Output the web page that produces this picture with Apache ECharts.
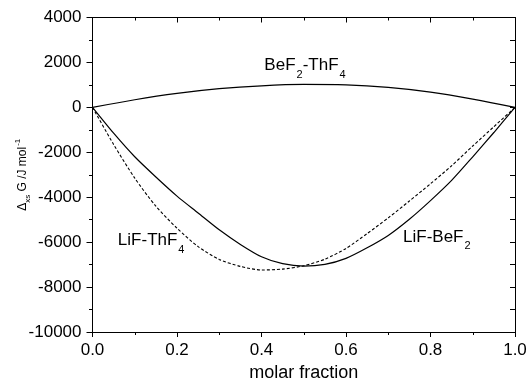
<!DOCTYPE html>
<html>
<head>
<meta charset="utf-8">
<script src="https://cdn.jsdelivr.net/npm/echarts@6/dist/echarts.min.js"></script>
<style>
html,body{margin:0;padding:0;background:#fff;}
#c{width:529px;height:384px;}
</style>
</head>
<body>
<div id="c"></div>
<script>
// ---- data ----
const xFine = [0, 0.05, 0.1, 0.15, 0.2, 0.25, 0.3, 0.35, 0.4, 0.45, 0.5, 0.55, 0.6, 0.65, 0.7, 0.75, 0.8, 0.85, 0.9, 0.95, 1.0];
const lifBef2 = [0, -1150, -2200, -3100, -3950, -4700, -5450, -6100, -6650, -6960, -7070, -6990, -6720, -6250, -5700, -4980, -4150, -3250, -2200, -1120, 0];
const lifThf4 = [0, -1650, -3150, -4400, -5380, -6200, -6770, -7080, -7240, -7200, -7050, -6760, -6280, -5620, -4920, -4170, -3400, -2600, -1720, -860, 0];
const xCoarse = [0, 0.1, 0.2, 0.3, 0.4, 0.5, 0.6, 0.7, 0.8, 0.9, 1.0];
const bef2Thf4 = [0, 340, 620, 830, 960, 1020, 1000, 890, 680, 370, 0];
const xTicks = [0, 0.2, 0.4, 0.6, 0.8, 1.0];
const yTicks = [-10000, -8000, -6000, -4000, -2000, 0, 2000, 4000];
// label anchors in data coordinates: [x, y, text, align]
const curveLabels = [
  [0.503, 1830, '{m|BeF}{s|2}{m|-ThF}{s|4}', 'center'],
  [0.06, -5950, '{m|LiF-ThF}{s|4}', 'left'],
  [0.735, -5790, '{m|LiF-BeF}{s|2}', 'left']
];

const FONT = "'Liberation Sans', Arial, sans-serif";
const chart = echarts.init(document.getElementById('c'), null, {renderer: 'canvas'});

function pairs(xs, ys) { return xs.map((x, i) => [x, ys[i]]); }

const axisCommon = {
  axisLine: {show: true, onZero: false, lineStyle: {color: '#000', width: 1}},
  splitLine: {show: false}
};

const option = {
  animation: false,
  backgroundColor: '#fff',
  grid: {left: 92.5, right: 14, top: 17.5, bottom: 52, containLabel: false, outerBoundsMode: 'none'},
  xAxis: [
    Object.assign({
      type: 'value', min: 0, max: 1, interval: 0.2, position: 'bottom',
      name: 'molar fraction', nameLocation: 'middle', nameGap: 31,
      nameTextStyle: {fontFamily: FONT, fontSize: 18, color: '#000'},
      axisTick: {show: true, inside: false, length: 5, lineStyle: {color: '#000'}},
      minorTick: {show: true, splitNumber: 2, length: 3, lineStyle: {color: '#000'}},
      axisLabel: {margin: 10, fontFamily: FONT, fontSize: 17, color: '#000',
        formatter: v => v.toFixed(1)}
    }, axisCommon),
    Object.assign({
      type: 'value', min: 0, max: 1, interval: 0.2, position: 'top',
      axisTick: {show: true, inside: true, length: 5, lineStyle: {color: '#000'}},
      minorTick: {show: true, splitNumber: 2, length: 3, lineStyle: {color: '#000'}},
      axisLabel: {show: false}
    }, axisCommon)
  ],
  yAxis: [
    Object.assign({
      type: 'value', min: -10000, max: 4000, interval: 2000, position: 'left',
      name: '{m|Δ}{s|xs}{m| G /J mol}{p|-1}', nameLocation: 'middle', nameGap: 66,
      nameMoveOverlap: false,
      nameTextStyle: {fontFamily: FONT, fontSize: 12, color: '#000',
        rich: {
          m: {fontFamily: FONT, fontSize: 12, color: '#000', lineHeight: 13, padding: [3, 0, 2, 0], verticalAlign: 'top'},
          s: {fontFamily: FONT, fontSize: 8, color: '#000', lineHeight: 8, padding: [10, 0, 0, 0], verticalAlign: 'top'},
          p: {fontFamily: FONT, fontSize: 8, color: '#000', lineHeight: 8, padding: [0, 0, 0, 1], verticalAlign: 'top'}
        }},
      axisTick: {show: true, inside: false, length: 6, lineStyle: {color: '#000'}},
      minorTick: {show: true, splitNumber: 2, length: 3.5, lineStyle: {color: '#000'}},
      axisLabel: {margin: 11, fontFamily: FONT, fontSize: 17, color: '#000',
        formatter: v => String(v)}
    }, axisCommon),
    Object.assign({
      type: 'value', min: -10000, max: 4000, interval: 2000, position: 'right',
      axisTick: {show: true, inside: true, length: 5, lineStyle: {color: '#000'}},
      minorTick: {show: true, splitNumber: 2, length: 5, lineStyle: {color: '#000'}},
      axisLabel: {show: false}
    }, axisCommon)
  ],
  series: [
    {type: 'line', name: 'BeF2-ThF4', data: pairs(xCoarse, bef2Thf4), smooth: 0.35,
      showSymbol: false, symbol: 'none', lineStyle: {color: '#000', width: 1.2}},
    {type: 'line', name: 'LiF-BeF2', data: pairs(xFine, lifBef2), smooth: 0.25,
      showSymbol: false, symbol: 'none', lineStyle: {color: '#000', width: 1.2}},
    {type: 'line', name: 'LiF-ThF4', data: pairs(xFine, lifThf4), smooth: 0.25,
      showSymbol: false, symbol: 'none', lineStyle: {color: '#000', width: 1.1, type: [3, 2]}}
  ]
};
chart.setOption(option);

const graphics = curveLabels.map(l => {
  const p = chart.convertToPixel({xAxisIndex: 0, yAxisIndex: 0}, [l[0], l[1]]);
  return {
    type: 'text', x: p[0], y: p[1],
    style: {
      text: l[2], align: l[3], verticalAlign: 'middle', fill: '#000',
      font: '17px ' + FONT,
      rich: {
        m: {fontFamily: FONT, fontSize: 17, fill: '#000', lineHeight: 18, verticalAlign: 'top'},
        s: {fontFamily: FONT, fontSize: 11, fill: '#000', lineHeight: 11, padding: [12, 0, 0, 1], verticalAlign: 'top'}
      }
    }
  };
});
chart.setOption({graphic: graphics});
</script>
</body>
</html>
